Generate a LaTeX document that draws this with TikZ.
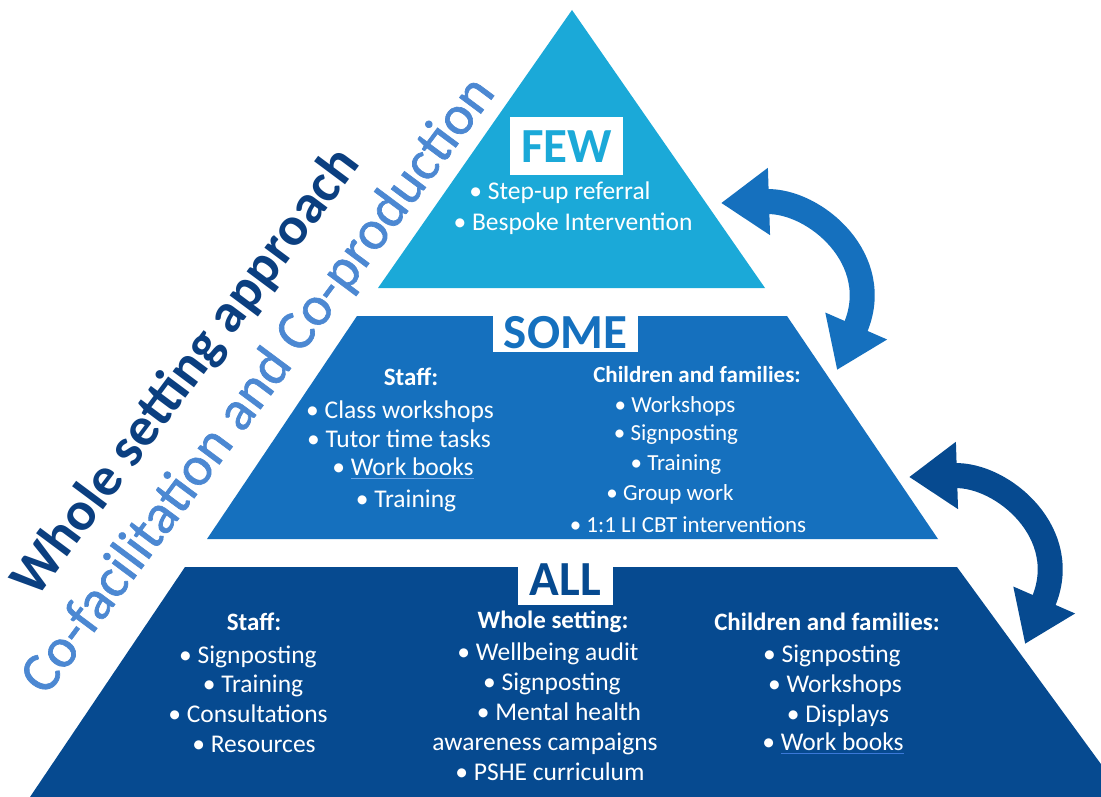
\documentclass[tikz,border=0pt]{standalone}
\usepackage{fontspec}
\setmainfont{Carlito}
\newfontfamily\semibfont[FakeBold=1.2]{Carlito}
\usetikzlibrary{arrows.meta}
\definecolor{fewc}{HTML}{1BA9D8}
\definecolor{somec}{HTML}{1570BE}
\definecolor{allc}{HTML}{064A90}
\definecolor{navy}{HTML}{0B3F80}
\definecolor{lightt}{HTML}{4C88D2}
\definecolor{ulblue}{HTML}{3A78D8}
\definecolor{ulsoft}{HTML}{6FA6E6}
\newcommand{\lnk}[2]{\setbox0\hbox{#2}\rlap{\textcolor{#1}{\rule[-4pt]{\wd0}{1.3pt}}}\box0}
\begin{document}
\begin{tikzpicture}[x=1pt,y=-1pt,
  body/.style={text=white, font=\fontsize{25.5}{30}\selectfont, inner sep=0pt, anchor=base},
  smallbody/.style={body, font=\fontsize{23}{28}\selectfont},
  head/.style={body, font=\bfseries\fontsize{25}{30}\selectfont},
  smallhead/.style={body, font=\bfseries\fontsize{23}{28}\selectfont},
  labbox/.style={fill=white, inner sep=0pt},
  labtext/.style={inner sep=0pt, font=\bfseries\fontsize{49}{55}\selectfont},
  twoway/.style={line width=25pt, {Triangle[width=64pt,length=48pt]}-{Triangle[width=64pt,length=48pt]}},
  title/.style={anchor=base west, rotate=53.3, inner sep=0pt}
]
\useasboundingbox (0,0) rectangle (1101,797);
\clip (0,0) rectangle (1101,797);
\fill[white] (0,0) rectangle (1101,797);

% pyramid layers
\fill[fewc] (572,10) -- (765,288) -- (378,288) -- cycle;
\fill[somec] (357,316) -- (787,316) -- (938,539) -- (207,539) -- cycle;
\fill[allc] (185,567) -- (957,567) -- (1125,797) -- (30,797) -- cycle;

% level labels
\node[labbox, minimum width=113pt, minimum height=58pt] (fewbox) at (566.5,146) {};
\node[labtext, text=fewc] (few) at (566.5,147) {FEW};
\node[labbox, minimum width=145pt, minimum height=42pt] (somebox) at (565.5,331) {};
\node[labtext, text=somec] (some) at (565.5,333) {SOME};
\node[labbox, minimum width=95pt, minimum height=47pt] (allbox) at (565.5,581.5) {};
\node[labtext, text=allc] (all) at (565.5,580) {ALL};

% FEW
\node[body] (f1) at (560,200) {• Step-up referral};
\node[body] (f2) at (573,230) {• Bespoke Intervention};

% SOME staff
\node[head] (ss0) at (411,385) {Staff:};
\node[body] (ss1) at (400,418) {• Class workshops};
\node[body] (ss2) at (399,447) {• Tutor time tasks};
\node[body] (ss3) at (403,475) {• \lnk{ulsoft}{Work books}};
\node[body] (ss4) at (406,507) {• Training};

% SOME children
\node[smallhead] (sc0) at (697,382) {Children and families:};
\node[smallbody] (sc1) at (675,412) {• Workshops};
\node[smallbody] (sc2) at (676,440) {• Signposting};
\node[smallbody] (sc3) at (676,470) {• Training};
\node[smallbody] (sc4) at (670,500) {• Group work};
\node[smallbody] (sc5) at (688,532) {• 1:1 LI CBT interventions};

% ALL staff
\node[head] (as0) at (254,630) {Staff:};
\node[body] (as1) at (248,663) {• Signposting};
\node[body] (as2) at (253,692) {• Training};
\node[body] (as3) at (248,722) {• Consultations};
\node[body] (as4) at (254,752) {• Resources};

% ALL whole setting
\node[head] (aw0) at (553,628) {Whole setting:};
\node[body] (aw1) at (548,660) {• Wellbeing audit};
\node[body] (aw2) at (552,690) {• Signposting};
\node[body] (aw3) at (559,720) {• Mental health};
\node[body] (aw4) at (545,750) {awareness campaigns};
\node[body] (aw5) at (550,780) {• PSHE curriculum};

% ALL children
\node[head] (ac0) at (827,630) {Children and families:};
\node[body] (ac1) at (832,662) {• Signposting};
\node[body] (ac2) at (835,692) {• Workshops};
\node[body] (ac3) at (838,722) {• Displays};
\node[body] (ac4) at (833,750) {• \lnk{ulblue}{Work books}};

% side titles
\node[title, text=navy, font=\bfseries\fontsize{55}{60}\selectfont] (t1) at (36,600) {Whole setting approach};
\node[title, text=lightt, font=\semibfont\fontsize{56}{60}\selectfont] (t2) at (46,697) {Co-facilitation and Co-production};

% two-way arrows
\coordinate (a1s) at (721,203);
\coordinate (a1e) at (837,370);
\draw[somec, twoway] (a1s) .. controls (815,200) and (885,260) .. (a1e);
\coordinate (a2s) at (909,477);
\coordinate (a2e) at (1025,644);
\draw[allc, twoway] (a2s) .. controls (1003,474) and (1073,534) .. (a2e);
\end{tikzpicture}
\end{document}
